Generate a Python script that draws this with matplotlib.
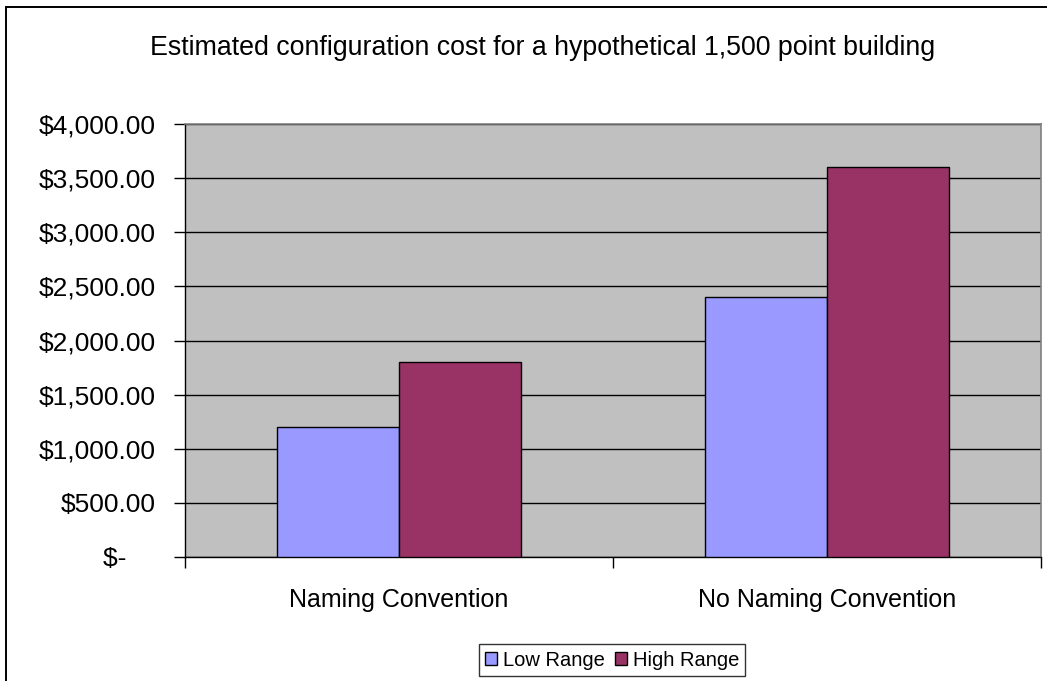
import matplotlib
matplotlib.use("Agg")
import matplotlib.pyplot as plt
from matplotlib.patches import Rectangle
from matplotlib.ticker import FixedLocator, FuncFormatter
import numpy as np

categories = ["Naming Convention", "No Naming Convention"]
series_names = ["Low Range", "High Range"]
low_range = [1200, 2400]
high_range = [1800, 3600]
y_ticks = [0, 500, 1000, 1500, 2000, 2500, 3000, 3500, 4000]
title = "Estimated configuration cost for a hypothetical 1,500 point building"

plt.rcParams["font.family"] = ["Liberation Sans", "DejaVu Sans"]

W, H = 1047, 681
fig = plt.figure(figsize=(W / 100, H / 100), dpi=100)
fig.patch.set_facecolor("white")

# outer chart frame (cut off on the right and bottom)
fig.patches.append(Rectangle((6 / W, -0.2), 1.2, 1.2 - 7 / H, transform=fig.transFigure,
                             fill=False, edgecolor="black", linewidth=1.4))

ax = fig.add_axes([185 / W, 1 - 557 / H, (1041 - 185) / W, (557 - 124) / H])
ax.set_facecolor("#C0C0C0")

x = np.arange(len(categories))
bw = 0.285
ax.bar(x - bw / 2, low_range, bw, color="#9999FF", edgecolor="black", linewidth=1.0,
       label=series_names[0], zorder=3)
ax.bar(x + bw / 2, high_range, bw, color="#993366", edgecolor="black", linewidth=1.0,
       label=series_names[1], zorder=3)

ax.set_xlim(-0.5, 1.5)
ax.set_ylim(0, 4000)
ax.set_yticks(y_ticks)


def money(v, pos):
    if v == 0:
        return "$-\u00a0\u00a0\u00a0\u00a0"
    return f"${v:,.2f}"


ax.yaxis.set_major_formatter(FuncFormatter(money))
ax.yaxis.grid(True, color="black", linewidth=1.0, zorder=1)
ax.tick_params(axis="y", direction="out", length=8, width=1, labelsize=19, pad=13)

ax.set_xticks(x)
ax.set_xticklabels(categories)
ax.xaxis.set_minor_locator(FixedLocator([-0.5, 0.5, 1.5]))
ax.tick_params(axis="x", which="major", length=0, labelsize=18, pad=22)
ax.tick_params(axis="x", which="minor", direction="out", length=8, width=1)

for side in ["top", "right"]:
    ax.spines[side].set_color("#808080")
    ax.spines[side].set_linewidth(1.2)
for side in ["left", "bottom"]:
    ax.spines[side].set_color("black")
    ax.spines[side].set_linewidth(1.0)

fig.text(543 / W, 1 - 48 / H, title, ha="center", va="center", fontsize=19.3)

leg = fig.legend(loc="center", bbox_to_anchor=(612 / W, 1 - 660 / H), ncol=2,
                 fontsize=14.5, frameon=True, fancybox=False, edgecolor="black",
                 handlelength=0.6, handleheight=0.6, handletextpad=0.3,
                 columnspacing=0.5, borderpad=0.3, borderaxespad=0)
leg.get_frame().set_linewidth(1.0)

fig.savefig("out.png", dpi=100)
